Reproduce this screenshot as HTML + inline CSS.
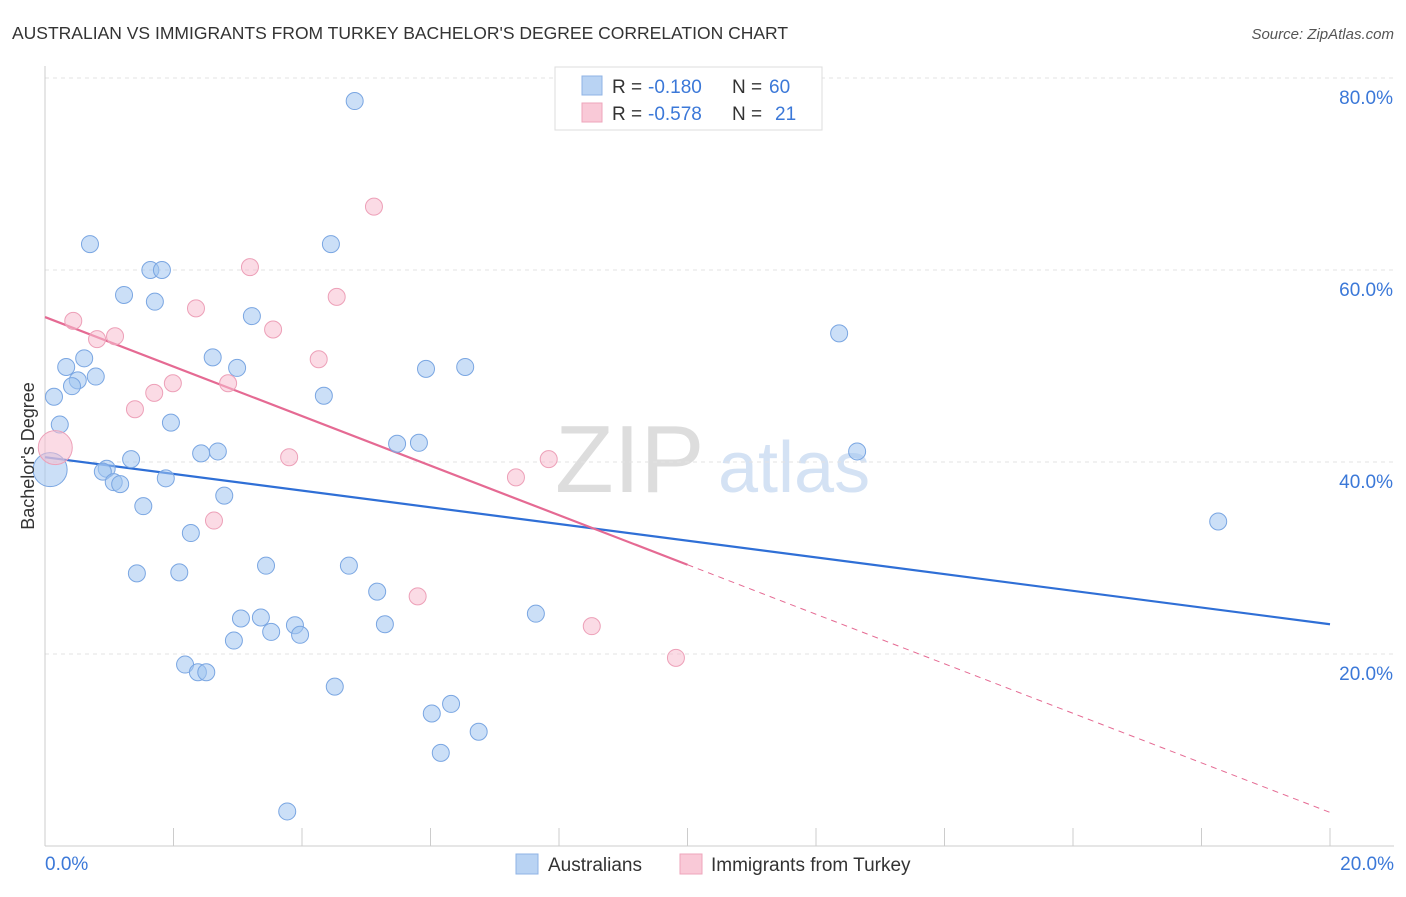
<!DOCTYPE html>
<html><head><meta charset="utf-8"><style>
body{margin:0;background:#fff;font-family:"Liberation Sans",sans-serif;}
svg text{font-family:"Liberation Sans",sans-serif;}
</style></head><body>
<svg width="1406" height="892" xmlns="http://www.w3.org/2000/svg">
<text x="12" y="39" font-size="17.5" fill="#333">AUSTRALIAN VS IMMIGRANTS FROM TURKEY BACHELOR'S DEGREE CORRELATION CHART</text>
<text x="1394" y="39" font-size="15" fill="#555" font-style="italic" text-anchor="end">Source: ZipAtlas.com</text>
<g>
<text x="555" y="492" font-size="96" fill="#ddd" font-family="Liberation Serif">ZIP</text>
<text x="718" y="492" font-size="72" fill="#d4e2f4">atlas</text>
</g>
<g id="grid"></g><g id="axes"></g><g id="lines"></g><g id="pts"></g>
<text x="34" y="456" font-size="18" fill="#333" text-anchor="middle" transform="rotate(-90 34 456)">Bachelor's Degree</text>
<g>
<rect x="555" y="67" width="267" height="63" fill="#fff" stroke="#ddd"/>
<rect x="582" y="76" width="20" height="19" fill="#b9d3f3" stroke="#8fb3e5"/>
<rect x="582" y="103" width="20" height="19" fill="#f9c9d7" stroke="#eea5bb"/>
<text x="612" y="93" font-size="19" fill="#333">R =</text>
<text x="648" y="93" font-size="19" fill="#3b78d8">-0.180</text>
<text x="732" y="93" font-size="19" fill="#333">N =</text>
<text x="769" y="93" font-size="19" fill="#3b78d8">60</text>
<text x="612" y="120" font-size="19" fill="#333">R =</text>
<text x="648" y="120" font-size="19" fill="#3b78d8">-0.578</text>
<text x="732" y="120" font-size="19" fill="#333">N =</text>
<text x="775" y="120" font-size="19" fill="#3b78d8">21</text>
</g>
<g>
<rect x="516" y="854" width="22" height="20" fill="#b9d3f3" stroke="#8fb3e5"/>
<text x="548" y="871" font-size="19" fill="#333">Australians</text>
<rect x="680" y="854" width="22" height="20" fill="#f9c9d7" stroke="#eea5bb"/>
<text x="711" y="871" font-size="19" fill="#333">Immigrants from Turkey</text>
</g>
</svg>
<script>
const blueX=[4.82,0.70,4.45,1.64,1.82,1.23,1.71,3.22,12.36,0.61,2.61,0.33,2.99,6.54,5.93,0.79,0.51,0.42,4.34,0.14,0.23,1.96,5.48,5.82,12.64,2.69,2.43,1.34,0.08,0.96,0.90,1.07,1.17,1.88,2.79,1.53,18.26,2.27,3.44,4.73,1.43,2.09,5.17,7.64,3.05,3.36,5.29,3.89,3.52,3.97,2.94,2.18,2.38,2.51,4.51,6.32,6.02,6.75,6.16,3.77];
const blueY=[77.6,62.7,62.7,60.0,60.0,57.4,56.7,55.2,53.4,50.8,50.9,49.9,49.8,49.9,49.7,48.9,48.5,47.9,46.9,46.8,43.9,44.1,41.9,42.0,41.1,41.1,40.9,40.3,39.2,39.3,39.0,37.9,37.7,38.3,36.5,35.4,33.8,32.6,29.2,29.2,28.4,28.5,26.5,24.2,23.7,23.8,23.1,23.0,22.3,22.0,21.4,18.9,18.1,18.1,16.6,14.8,13.8,11.9,9.7,3.6];
const pinkX=[5.12,3.19,4.54,2.35,0.44,3.55,1.09,0.81,4.26,1.99,2.85,1.70,1.40,0.16,3.80,7.84,7.33,2.63,5.80,8.51,9.82];
const pinkY=[66.6,60.3,57.2,56.0,54.7,53.8,53.1,52.8,50.7,48.2,48.2,47.2,45.5,41.5,40.5,40.3,38.4,33.9,26.0,22.9,19.6];
const blueTrend=[40.5,23.1], pinkTrend=[55.1,3.5];
const yTicks=[20,40,60,80];
const X=v=>45+v/20*1285, Y=v=>846-v*9.6;
const NS="http://www.w3.org/2000/svg";
function mk(tag,attrs,parent,txt){const e=document.createElementNS(NS,tag);for(const k in attrs)e.setAttribute(k,attrs[k]);if(txt!==undefined)e.textContent=txt;document.getElementById(parent).appendChild(e);return e;}
yTicks.forEach(t=>{
 const g=mk('line',{x1:45,x2:1394,y1:Y(t),y2:Y(t),stroke:'#e3e3e3','stroke-dasharray':'4,4'},'grid');
 
 
 const l=mk('text',{x:1393,y:Y(t)+26,'font-size':19,fill:'#3b78d8','text-anchor':'end'},'grid',t.toFixed(1)+'%');
 
 
});
const ya=mk('line',{x1:45,x2:45,y1:66,y2:846,stroke:'#ccc'},'axes');


const xa=mk('line',{x1:45,x2:1394,y1:846,y2:846,stroke:'#ccc'},'axes');


for(let i=1;i<=10;i++){const t=mk('line',{x1:X(i*2),x2:X(i*2),y1:828,y2:846,stroke:'#ccc'},'axes');
 
 }
const x0=mk('text',{x:45,y:870,'font-size':19,fill:'#3b78d8'},'axes','0.0%');


const x1=mk('text',{x:1394,y:870,'font-size':19,fill:'#3b78d8','text-anchor':'end'},'axes','20.0%');


const bl=mk('line',{x1:X(0),y1:Y(blueTrend[0]),x2:X(20),y2:Y(blueTrend[1]),stroke:'#2f6fd6','stroke-width':2.2},'lines');


const pAt=v=>pinkTrend[0]+(pinkTrend[1]-pinkTrend[0])*v/20;
const pl=mk('line',{x1:X(0),y1:Y(pAt(0)),x2:X(10),y2:Y(pAt(10)),stroke:'#e56a93','stroke-width':2.2},'lines');


const pd=mk('line',{x1:X(10),y1:Y(pAt(10)),x2:X(20),y2:Y(pAt(20)),stroke:'#e56a93','stroke-width':1,'stroke-dasharray':'6,5'},'lines');


blueX.forEach((x,i)=>{const r=(i==28)?17:8.5;const c=mk('circle',{cx:X(x),cy:Y(blueY[i]),r:r,fill:'rgba(160,196,240,0.55)',stroke:'#7aa6e2','stroke-width':1},'pts');
 
 });
pinkX.forEach((x,i)=>{const r=(i==13)?17:8.5;const c=mk('circle',{cx:X(x),cy:Y(pinkY[i]),r:r,fill:'rgba(248,190,208,0.55)',stroke:'#eda0b8','stroke-width':1},'pts');
 
 });
</script>
</body></html>
